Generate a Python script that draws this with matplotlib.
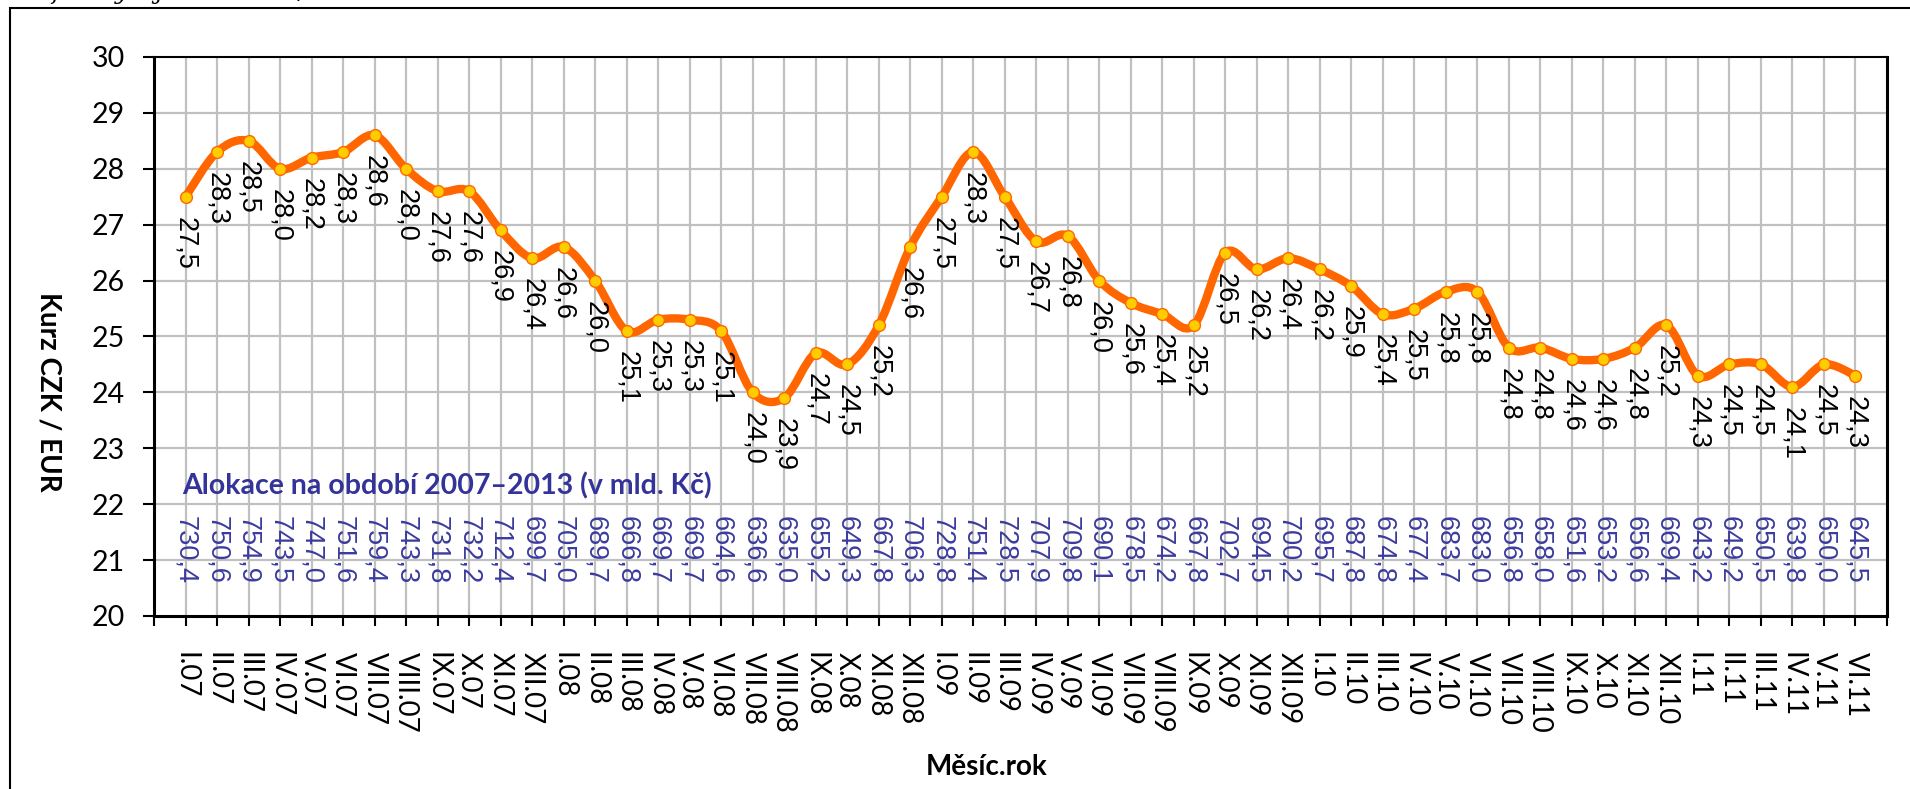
import matplotlib
matplotlib.use('Agg')
import matplotlib.pyplot as plt
from matplotlib.path import Path
from matplotlib.patches import PathPatch, Rectangle
import numpy as np

# měsíce (kategorie osy x)
months = ['I.07', 'II.07', 'III.07', 'IV.07', 'V.07', 'VI.07', 'VII.07', 'VIII.07', 'IX.07', 'X.07', 'XI.07', 'XII.07',
          'I.08', 'II.08', 'III.08', 'IV.08', 'V.08', 'VI.08', 'VII.08', 'VIII.08', 'IX.08', 'X.08', 'XI.08', 'XII.08',
          'I.09', 'II.09', 'III.09', 'IV.09', 'V.09', 'VI.09', 'VII.09', 'VIII.09', 'IX.09', 'X.09', 'XI.09', 'XII.09',
          'I.10', 'II.10', 'III.10', 'IV.10', 'V.10', 'VI.10', 'VII.10', 'VIII.10', 'IX.10', 'X.10', 'XI.10', 'XII.10',
          'I.11', 'II.11', 'III.11', 'IV.11', 'V.11', 'VI.11']

# kurz CZK / EUR
kurz = [27.5, 28.3, 28.5, 28.0, 28.2, 28.3, 28.6, 28.0, 27.6, 27.6, 26.9, 26.4,
        26.6, 26.0, 25.1, 25.3, 25.3, 25.1, 24.0, 23.9, 24.7, 24.5, 25.2, 26.6,
        27.5, 28.3, 27.5, 26.7, 26.8, 26.0, 25.6, 25.4, 25.2, 26.5, 26.2, 26.4,
        26.2, 25.9, 25.4, 25.5, 25.8, 25.8, 24.8, 24.8, 24.6, 24.6, 24.8, 25.2,
        24.3, 24.5, 24.5, 24.1, 24.5, 24.3]

# alokace na období 2007-2013 (mld. Kč)
alokace = [730.4, 750.6, 754.9, 743.5, 747.0, 751.6, 759.4, 743.3, 731.8, 732.2, 712.4, 699.7,
           705.0, 689.7, 666.8, 669.7, 669.7, 664.6, 636.6, 635.0, 655.2, 649.3, 667.8, 706.3,
           728.8, 751.4, 728.5, 707.9, 709.8, 690.1, 678.5, 674.2, 667.8, 702.7, 694.5, 700.2,
           695.7, 687.8, 674.8, 677.4, 683.7, 683.0, 656.8, 658.0, 651.6, 653.2, 656.6, 669.4,
           643.2, 649.2, 650.5, 639.8, 650.0, 645.5]

W, H = 1910, 789
fig = plt.figure(figsize=(W / 100, H / 100), dpi=100)
ax = fig.add_axes([154 / W, (H - 616) / H, (1887 - 154) / W, (616 - 57) / H])

n = len(months)
x = np.arange(1, n + 1)
y = np.array(kurz)

# vyhlazená čára (Bezierovy úseky jako v Excelu)
verts = [(x[0], y[0])]
codes = [Path.MOVETO]
for i in range(n - 1):
    p0 = np.array([x[max(i - 1, 0)], y[max(i - 1, 0)]])
    p1 = np.array([x[i], y[i]])
    p2 = np.array([x[i + 1], y[i + 1]])
    p3 = np.array([x[min(i + 2, n - 1)], y[min(i + 2, n - 1)]])
    c1 = p1 + (p2 - p0) / 6
    c2 = p2 - (p3 - p1) / 6
    verts += [tuple(c1), tuple(c2), tuple(p2)]
    codes += [Path.CURVE4] * 3
ax.add_patch(PathPatch(Path(verts, codes), facecolor='none', edgecolor='#FF6600',
                       lw=6, capstyle='round', joinstyle='round', zorder=3))
ax.plot(x, y, ls='none', marker='o', ms=8.5, mfc='#FFCC00', mec='#FF6600', mew=1, zorder=4)

lab_font = 'Liberation Sans'
for xi, v in zip(x, kurz):
    ax.annotate(f'{v:.1f}'.replace('.', ','), xy=(xi, v), xytext=(0, -20), textcoords='offset pixels',
                rotation=270, ha='center', va='top', fontsize=19.5, family=lab_font, color='black', zorder=5)

for xi, a in zip(x, alokace):
    ax.text(xi, 21.78, f'{a:.1f}'.replace('.', ','), rotation=270, ha='center', va='top',
            fontsize=19.5, family=lab_font, color='#3B3B9E', zorder=5)

ax.text(1 - 0.12, 22.17, 'Alokace na období 2007–2013 (v mld. Kč)', ha='left', va='baseline',
        fontsize=20.5, fontweight='bold', family='Lato', color='#333399', zorder=5)

ax.set_xlim(0, n + 1)
ax.set_ylim(20, 30)
ax.set_yticks(range(20, 31))
ax.set_xticks(range(0, n + 2))
ax.set_xticklabels([''] + months + [''])
for t in ax.get_xticklabels():
    t.set_rotation(270)
    t.set_ha('center')
    t.set_va('top')
    t.set_family('Lato')
    t.set_fontsize(20)
for t in ax.get_yticklabels():
    t.set_family('Lato')
    t.set_fontsize(20.5)

for yy in range(21, 30):
    ax.axhline(yy, color='#C0C0C0', lw=1.6, zorder=1)
for xi in x:
    ax.axvline(xi, color='#C0C0C0', lw=1.6, zorder=1)

ax.tick_params(axis='x', direction='out', length=7, width=1.5, pad=19)
ax.tick_params(axis='y', direction='out', length=8, width=1.5, pad=13)
ax.spines['left'].set_linewidth(2.2)
ax.spines['bottom'].set_linewidth(2.2)
ax.spines['top'].set_linewidth(1.5)
ax.spines['right'].set_linewidth(2.2)

fig.text(987 / W, 1 - 767 / H, 'Měsíc.rok', ha='center', va='center', fontsize=20,
         fontweight='bold', family='Lato')
fig.text(48 / W, 1 - 392 / H, 'Kurz CZK / EUR', ha='center', va='center', rotation=270,
         fontsize=20, fontweight='bold', family='Lato')

# rámeček grafu a oříznutý titulek
fig.patches.append(Rectangle((10 / W, -0.05), 1.1, 1 - 8 / H + 0.05, transform=fig.transFigure,
                             fill=False, edgecolor='black', lw=1.5))
fig.text(8 / W, 1 + 1 / H, 'Graf 7: Vývoj kurzu CZK/EUR', ha='left', va='baseline', fontsize=17,
         style='italic', family='DejaVu Serif')

fig.savefig('out.png', dpi=100)
